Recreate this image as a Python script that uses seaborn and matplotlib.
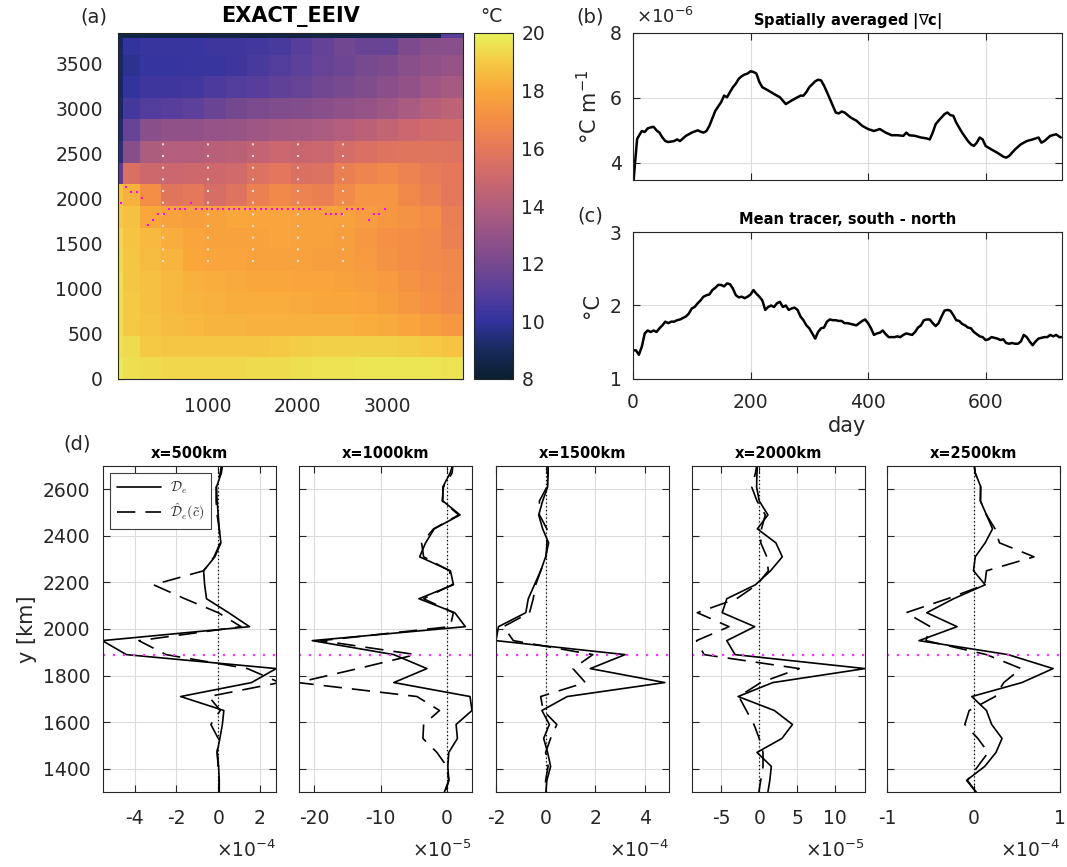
import numpy as np
import pandas as pd
import matplotlib
matplotlib.use("Agg")
import matplotlib.pyplot as plt
import matplotlib.font_manager as fm
from matplotlib.colors import LinearSegmentedColormap
import seaborn as sns

# ------------------------------------------------------------------ data
# (a) temperature field (deg C); cell edges in km
x_edges = [0, 60, 240, 480, 720, 960, 1200, 1440, 1680, 1920, 2160, 2400,
           2640, 2880, 3120, 3360, 3600, 3840]
y_edges = [0, 240, 480, 720, 960, 1200, 1440, 1680, 1920, 2160, 2400, 2640,
           2880, 3120, 3360, 3600, 3780, 3840]
temp_rows = [
    [19.8, 19.5, 19.4, 19.3, 19.3, 19.3, 19.3, 19.4, 19.4, 19.5, 19.6, 19.6, 19.7, 19.7, 19.7, 19.7, 19.6],
    [19.6, 19.4, 19.0, 18.9, 18.9, 18.9, 18.9, 18.9, 19.0, 19.1, 19.2, 19.2, 19.2, 19.2, 19.1, 19.0, 18.8],
    [19.5, 19.0, 18.8, 18.6, 18.5, 18.4, 18.4, 18.3, 18.3, 18.3, 18.3, 18.3, 18.2, 18.1, 17.9, 17.7, 17.4],
    [19.5, 19.0, 18.7, 18.5, 18.4, 18.3, 18.2, 18.2, 18.2, 18.1, 18.0, 18.0, 17.9, 17.7, 17.4, 17.1, 16.9],
    [19.5, 18.9, 18.7, 18.5, 18.3, 18.2, 18.1, 18.0, 18.0, 17.9, 17.9, 17.8, 17.7, 17.5, 17.2, 17.0, 16.8],
    [19.4, 18.9, 18.6, 18.4, 18.0, 17.9, 17.9, 17.8, 17.8, 17.8, 17.7, 17.7, 17.5, 17.2, 17.0, 16.9, 16.7],
    [19.3, 18.8, 18.5, 18.2, 17.9, 17.8, 17.8, 17.8, 17.9, 17.8, 17.8, 17.7, 17.4, 17.1, 17.0, 16.9, 16.4],
    [19.0, 18.7, 18.0, 17.8, 17.7, 17.8, 18.0, 17.9, 17.9, 17.8, 17.8, 17.8, 17.6, 17.4, 17.2, 17.0, 16.3],
    [18.8, 18.3, 17.0, 15.8, 16.0, 15.4, 15.7, 16.4, 16.8, 16.5, 16.3, 16.9, 17.3, 17.3, 16.8, 16.4, 16.0],
    [11.0, 15.5, 15.0, 14.9, 15.0, 15.0, 15.1, 15.6, 15.9, 15.5, 15.6, 16.3, 16.6, 16.8, 16.5, 16.2, 16.0],
    [9.5, 12.5, 13.8, 14.0, 14.0, 14.2, 14.3, 14.6, 14.9, 14.8, 14.9, 15.3, 15.5, 15.7, 15.8, 15.8, 15.7],
    [9.2, 11.5, 12.6, 12.8, 12.8, 13.0, 13.1, 13.3, 13.5, 13.6, 13.8, 14.0, 14.3, 14.6, 14.9, 15.1, 15.2],
    [9.0, 10.5, 10.9, 11.0, 11.2, 11.6, 11.9, 12.1, 12.3, 12.4, 12.6, 12.8, 13.0, 13.3, 13.7, 14.1, 14.4],
    [9.0, 10.0, 10.3, 10.3, 10.4, 10.7, 10.9, 11.0, 11.3, 11.5, 11.8, 12.0, 12.3, 12.6, 12.9, 13.3, 13.6],
    [9.0, 9.8, 10.1, 10.1, 10.2, 10.2, 10.3, 10.6, 10.9, 11.2, 11.5, 11.7, 12.0, 12.2, 12.6, 12.8, 13.0],
    [9.0, 10.0, 10.2, 10.2, 10.2, 10.3, 10.3, 10.4, 10.6, 11.0, 11.4, 11.8, 11.6, 11.5, 12.2, 12.5, 12.6],
    [8.5, 8.5, 8.5, 8.5, 8.5, 8.5, 8.5, 8.5, 8.5, 8.5, 8.5, 8.5, 8.5, 8.5, 8.5, 8.5, 11.0],
]
# front position (magenta dots)
front_x = [30, 90, 150, 210, 270, 330, 390, 450, 510, 570, 630, 690, 750, 810,
           870, 930, 990, 1050, 1110, 1170, 1230, 1290, 1350, 1410, 1470, 1530,
           1590, 1650, 1710, 1770, 1830, 1890, 1950, 2010, 2070, 2130, 2190, 2250,
           2310, 2370, 2430, 2490, 2550, 2610, 2670, 2730, 2790, 2850, 2910, 2970]
front_y = [1950, 2130, 2070, 2070, 2010, 1710, 1770, 1830, 1830, 1890, 1890, 1890, 1890, 1950,
           1890, 1890, 1890, 1890, 1890, 1890, 1890, 1890, 1890, 1890, 1890, 1890,
           1890, 1890, 1890, 1890, 1890, 1890, 1890, 1890, 1890, 1890, 1890, 1890,
           1830, 1830, 1830, 1830, 1890, 1890, 1890, 1890, 1770, 1830, 1830, 1890]
section_x = [500, 1000, 1500, 2000, 2500]
section_y = [1300, 2700]

# (b) spatially averaged |grad c|  (x 1e-6 degC/m)
day_b = [0, 3, 7, 10, 15, 20, 25, 30, 35, 40, 45, 50, 55, 60, 70, 75, 80, 90, 100, 110,
         115, 120, 125, 130, 140, 150, 155, 160, 165, 170, 175, 180, 185, 190, 195, 200,
         205, 210, 215, 220, 230, 240, 250, 260, 270, 280, 285, 290, 295, 300, 310, 315,
         320, 325, 330, 340, 345, 350, 355, 360, 370, 380, 390, 400, 410, 420, 430, 440,
         450, 460, 465, 470, 480, 490, 500, 505, 510, 515, 520, 525, 530, 535, 540, 545,
         550, 560, 570, 575, 580, 585, 590, 595, 600, 610, 620, 630, 635, 640, 650, 660,
         670, 680, 690, 695, 700, 710, 720, 728]
grad_b = [3.2, 3.9, 4.73, 4.83, 4.98, 4.95, 5.06, 5.09, 5.11, 5.0, 4.93, 4.78, 4.67, 4.64,
          4.67, 4.72, 4.67, 4.83, 4.93, 5.0, 4.96, 4.93, 4.98, 5.14, 5.6, 5.87, 6.07, 6.02,
          6.18, 6.33, 6.44, 6.59, 6.67, 6.72, 6.75, 6.82, 6.8, 6.75, 6.49, 6.33, 6.23, 6.12,
          6.02, 5.81, 5.92, 6.02, 6.07, 6.07, 6.18, 6.33, 6.51, 6.56, 6.54, 6.38, 6.18, 5.76,
          5.55, 5.52, 5.58, 5.55, 5.4, 5.3, 5.14, 5.04, 4.98, 5.04, 4.93, 4.85, 4.85, 4.83,
          4.93, 4.85, 4.83, 4.78, 4.75, 4.72, 4.93, 5.19, 5.3, 5.4, 5.5, 5.55, 5.47, 5.45,
          5.24, 4.93, 4.67, 4.57, 4.52, 4.62, 4.78, 4.72, 4.52, 4.41, 4.31, 4.19, 4.16, 4.21,
          4.41, 4.57, 4.67, 4.72, 4.78, 4.62, 4.67, 4.83, 4.88, 4.78]

# (c) mean tracer south - north (degC), every 5 days
day_c = list(range(0, 731, 5))
tracer_c = [1.39, 1.39, 1.33, 1.44, 1.62, 1.66, 1.64, 1.66, 1.64, 1.69, 1.73, 1.78, 1.76, 1.78,
            1.78, 1.80, 1.81, 1.83, 1.85, 1.89, 1.96, 1.98, 2.03, 2.07, 2.12, 2.14, 2.15, 2.21,
            2.24, 2.28, 2.28, 2.26, 2.30, 2.29, 2.23, 2.14, 2.11, 2.12, 2.10, 2.12, 2.15, 2.21,
            2.16, 2.12, 2.07, 1.94, 1.98, 2.00, 1.98, 2.03, 2.05, 1.98, 2.00, 1.94, 1.96, 1.97,
            1.94, 1.85, 1.80, 1.73, 1.69, 1.62, 1.55, 1.64, 1.69, 1.70, 1.78, 1.81, 1.80, 1.80,
            1.79, 1.79, 1.76, 1.76, 1.75, 1.74, 1.73, 1.76, 1.79, 1.81, 1.76, 1.69, 1.60, 1.62,
            1.63, 1.66, 1.61, 1.57, 1.57, 1.57, 1.58, 1.57, 1.60, 1.62, 1.61, 1.60, 1.64, 1.70,
            1.73, 1.80, 1.81, 1.81, 1.76, 1.72, 1.76, 1.85, 1.93, 1.94, 1.93, 1.87, 1.80, 1.79,
            1.75, 1.73, 1.70, 1.69, 1.64, 1.61, 1.58, 1.57, 1.53, 1.54, 1.57, 1.56, 1.55, 1.53,
            1.54, 1.49, 1.48, 1.49, 1.48, 1.48, 1.51, 1.60, 1.57, 1.51, 1.46, 1.51, 1.55, 1.56,
            1.57, 1.57, 1.60, 1.58, 1.60, 1.57, 1.57]

# (d) eddy diffusion profiles, y from north to south (km)
y_prof = [2730, 2670, 2610, 2550, 2490, 2430, 2370, 2310, 2250, 2190, 2130, 2070, 2010,
          1950, 1890, 1830, 1770, 1710, 1650, 1590, 1530, 1470, 1410, 1350, 1290]
prof_titles = ["x=500km", "x=1000km", "x=1500km", "x=2000km", "x=2500km"]
prof_exp = [-4, -5, -4, -5, -4]          # values below are in units of 10^exp
De_500 = [0.25, 0.15, -0.08, -0.05, 0.0, 0.05, 0.13, -0.16, -0.7, -0.65, -0.56, 0.5, 1.5,
          -5.55, -4.4, 2.78, 1.6, -1.8, 0.27, 0.2, 0.08, -0.05, 0.02, 0.05, 0.03]
Dh_500 = [0.2, 0.1, -0.1, -0.1, -0.05, 0.05, 0.1, -0.2, -0.7, -3.1, -1.6, 0.0, 1.1,
          -3.8, -2.5, 1.4, 2.95, -0.45, 0.1, -0.35, 0.0, -0.05, 0.0, 0.05, 0.05]
De_1000 = [1.2, 0.5, -0.6, -0.6, 2.0, -1.9, -3.2, -4.1, 0.55, 1.0, -4.2, 1.2, 2.8,
           -20.3, -8.0, -3.0, -8.0, 3.5, 3.8, 1.4, 1.6, 0.3, 0.15, 0.3, -0.5]
Dh_1000 = [1.0, 0.8, -0.5, -0.7, 1.8, -2.0, -3.8, -3.5, 0.4, 0.8, -3.5, 1.0, 0.5,
           -19.0, -4.7, -13.4, -22.5, -4.5, -1.1, -3.5, -3.6, -1.5, 0.0, 0.3, -0.3]
De_1500 = [0.1, 0.1, 0.08, -0.12, -0.28, -0.12, 0.12, 0.0, -0.2, -0.45, -0.7, -0.8, -1.9,
           -2.0, 3.2, 1.8, 4.8, 0.87, -0.15, 0.15, -0.08, 0.08, 0.2, 0.05, 0.0]
Dh_1500 = [0.1, 0.1, 0.05, -0.25, -0.25, 0.05, 0.05, 0.02, -0.2, -0.4, -0.5, -0.65, -1.7,
           -1.3, 1.9, 1.1, 1.6, -0.2, -0.1, 0.45, 0.2, 0.0, 0.1, 0.0, 0.0]
De_2000 = [-0.2, -0.3, -0.35, 0.0, 1.15, -0.25, 2.2, 3.05, 1.5, -0.5, -4.3, -4.9, -0.6,
           -4.3, -3.2, 14.0, 1.8, -2.8, 2.0, 4.4, 3.0, -0.3, 1.6, 1.4, 1.1]
Dh_2000 = [-0.2, -0.5, -1.0, -0.3, 0.8, 0.3, 0.2, 1.0, 1.2, -0.3, -3.0, -8.2, -4.0,
           -8.3, -7.3, 5.3, 0.2, -2.7, -1.7, -0.7, 0.0, 0.5, 0.5, 0.2, -0.1]
De_2500 = [0.0, 0.02, 0.085, 0.08, 0.15, 0.22, 0.135, 0.02, 0.0, 0.135, -0.23, -0.54, -0.19,
           -0.63, 0.4, 0.92, 0.56, -0.02, 0.15, 0.21, 0.33, 0.26, 0.13, -0.08, 0.05]
Dh_2500 = [0.0, 0.02, 0.08, 0.08, 0.15, 0.25, 0.3, 0.7, 0.15, 0.13, -0.3, -0.78, -0.5,
           -0.55, 0.15, 0.55, 0.35, 0.25, -0.05, -0.1, 0.05, 0.17, 0.05, -0.07, 0.05]
De_all = [De_500, De_1000, De_1500, De_2000, De_2500]
Dh_all = [Dh_500, Dh_1000, Dh_1500, Dh_2000, Dh_2500]
prof_xlim = [(-5.52, 2.77), (-22.3, 3.8), (-2.0, 4.97), (-8.9, 14.0), (-1.0, 1.0)]
prof_xticks = [[-4, -2, 0, 2], [-20, -10, 0], [-2, 0, 2, 4], [-5, 0, 5, 10], [-1, 0, 1]]
front_line_y = 1890

# ------------------------------------------------------------------ style
sns.set_theme(style="ticks")
plt.rcParams['font.family'] = ['DejaVu Sans']
plt.rcParams['axes.unicode_minus'] = False
TXT = '#262626'
GRID = '#dcdcdc'

W, H = 1067, 867
fig = plt.figure(figsize=(W / 100, H / 100), dpi=100)


def box(l, t, r, b):
    return [l / W, 1 - b / H, (r - l) / W, (b - t) / H]


def ftext(x, y, s, **kw):
    fig.text(x / W, 1 - y / H, s, color=kw.pop('color', TXT), **kw)


def matlab(ax, grid=True, xpad=10, ypad=8):
    ax.tick_params(axis='both', direction='in', top=True, right=True, length=5,
                   width=0.8, colors=TXT, labelsize=13.5)
    ax.tick_params(axis='x', pad=xpad)
    ax.tick_params(axis='y', pad=ypad)
    for s in ax.spines.values():
        s.set_color(TXT)
        s.set_linewidth(0.8)
    if grid:
        ax.grid(True, color=GRID, lw=0.8)
        ax.set_axisbelow(True)
    else:
        ax.grid(False)


thermal = LinearSegmentedColormap.from_list('thermal_like', [
    (0 / 12, '#0a1f2f'), (1 / 12, '#182a5c'), (2 / 12, '#33339e'), (3 / 12, '#573e9c'),
    (4 / 12, '#77498e'), (5 / 12, '#955387'), (6 / 12, '#b25e7d'), (7 / 12, '#cd686d'),
    (8 / 12, '#e5785a'), (9 / 12, '#f48d47'), (10 / 12, '#f9a63b'), (11 / 12, '#f5c944'),
    (12 / 12, '#e8f25a')])

# ------------------------------------------------------------------ (a)
axa = fig.add_axes(box(118, 33, 463, 379))
mesh = axa.pcolormesh(x_edges, y_edges, np.array(temp_rows), cmap=thermal,
                      vmin=8, vmax=20, shading='flat')
for xs in section_x:
    axa.plot([xs, xs], section_y, color='#e6e6e6', lw=1.4, ls=(0, (1, 5)))
axa.plot(front_x, front_y, ls='none', marker='s', ms=1.9, color='#ff00ff', mew=0)
axa.set_xlim(0, 3840)
axa.set_ylim(0, 3840)
axa.set_xticks([1000, 2000, 3000])
axa.set_yticks(range(0, 3501, 500))
matlab(axa, grid=False, xpad=13, ypad=11)
axa.set_title('EXACT_EEIV', fontsize=15, fontweight='bold', color='black', pad=8)

cax = fig.add_axes(box(474, 33, 513, 379))
cb = fig.colorbar(mesh, cax=cax, ticks=range(8, 21, 2))
cb.ax.tick_params(direction='in', length=5, width=0.8, colors=TXT, labelsize=13.5, pad=6)
cb.outline.set_edgecolor(TXT)
cb.outline.set_linewidth(0.8)

ftext(94, 17, '(a)', fontsize=14, ha='center', va='center')
ftext(491, 17, '°C', fontsize=13.5, ha='center', va='center')

# ------------------------------------------------------------------ (b)
axb = fig.add_axes(box(633, 33, 1062, 180))
sns.lineplot(x=day_b, y=grad_b, ax=axb, color='black', lw=1.8)
axb.set_xlim(0, 730)
axb.set_ylim(3.47, 8)
axb.set_xticks([0, 200, 400, 600])
axb.set_yticks([4, 6, 8])
matlab(axb)
axb.tick_params(axis='x', labelbottom=False)
axb.set_ylabel('°C m$^{-1}$', fontsize=15, color=TXT, labelpad=6)
axb.set_title(r'Spatially averaged |$\nabla$c|', fontsize=10.5, fontweight='bold',
              color='black', pad=6)
ftext(590, 17, '(b)', fontsize=14, ha='center', va='center')
ftext(636, 17, r'$\times10^{-6}$', fontsize=13, ha='left', va='center')

# ------------------------------------------------------------------ (c)
axc = fig.add_axes(box(633, 232, 1062, 379))
sns.lineplot(x=day_c, y=tracer_c, ax=axc, color='black', lw=1.8)
axc.set_xlim(0, 730)
axc.set_ylim(1, 3)
axc.set_xticks([0, 200, 400, 600])
axc.set_yticks([1, 2, 3])
matlab(axc)
axc.set_ylabel('°C', fontsize=15, color=TXT, labelpad=6)
axc.set_xlabel('day', fontsize=15, color=TXT, labelpad=3)
axc.set_title('Mean tracer, south - north', fontsize=10.5, fontweight='bold',
              color='black', pad=6)
ftext(590, 216, '(c)', fontsize=14, ha='center', va='center')

# ------------------------------------------------------------------ (d)
lefts = [103, 299, 496, 692, 887]
math_prop = fm.FontProperties(family='DejaVu Sans', size=10, math_fontfamily='cm')
for i, l in enumerate(lefts):
    ax = fig.add_axes(box(l, 466, l + 173, 792))
    sns.lineplot(x=De_all[i], y=y_prof, ax=ax, sort=False, estimator=None,
                 color='black', lw=1.2, label=r'$\mathcal{D}_e$')
    sns.lineplot(x=Dh_all[i], y=y_prof, ax=ax, sort=False, estimator=None,
                 color='black', lw=1.2, ls=(0, (11, 6)),
                 label=r'$\hat{\mathcal{D}}_e(\tilde{c})$')
    ax.axhline(front_line_y, color='#ff33ff', lw=1.6, ls=(0, (1, 3.5)))
    ax.axvline(0, color='black', lw=0.9, ls=(0, (1, 2)))
    ax.set_xlim(*prof_xlim[i])
    ax.set_ylim(1300, 2700)
    ax.set_xticks(prof_xticks[i])
    ax.set_yticks(range(1400, 2601, 200))
    matlab(ax, xpad=12, ypad=9)
    ax.set_xlabel('')
    ax.set_ylabel('')
    ax.set_title(prof_titles[i], fontsize=10.5, fontweight='bold', color='black', pad=6)
    if i == 0:
        ax.set_ylabel('y [km]', fontsize=15, color=TXT, labelpad=4)
        leg = ax.legend(loc='upper left', prop=math_prop, frameon=True, fancybox=False,
                        edgecolor='#404040', framealpha=1, borderaxespad=0.5,
                        handlelength=3.2, handletextpad=0.6, borderpad=0.5,
                        labelspacing=0.4)
        leg.get_frame().set_linewidth(0.8)
    else:
        ax.tick_params(axis='y', labelleft=False)
        if ax.get_legend() is not None:
            ax.get_legend().remove()
    ftext(l + 173, 850, r'$\times10^{%d}$' % prof_exp[i], fontsize=13.5,
          ha='right', va='center')

ftext(77, 444, '(d)', fontsize=14, ha='center', va='center')

fig.savefig('out.png', dpi=100)
